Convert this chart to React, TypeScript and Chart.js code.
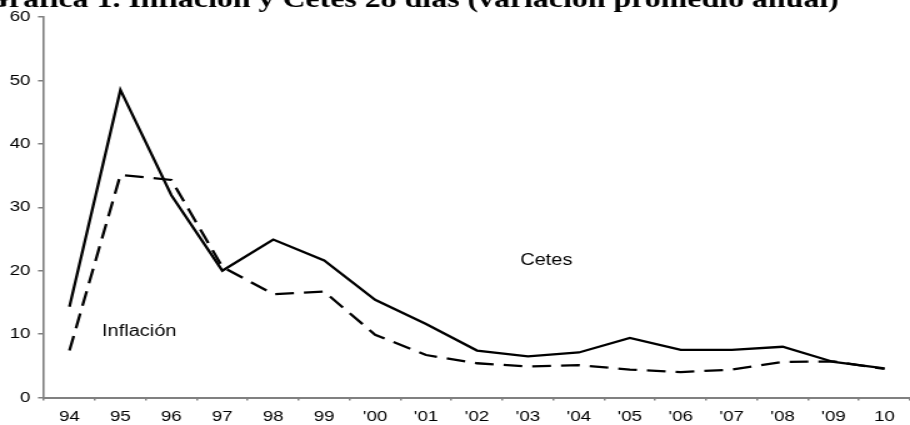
import React, { useEffect, useRef } from 'react';
import { Chart, registerables } from 'chart.js';

Chart.register(...registerables);

const years = ['94', '95', '96', '97', '98', '99', "'00", "'01", "'02", "'03", "'04", "'05", "'06", "'07", "'08", "'09", '10'];
const cetes = [14.3, 48.5, 31.9, 20.0, 24.9, 21.6, 15.4, 11.6, 7.4, 6.5, 7.1, 9.4, 7.5, 7.5, 8.0, 5.6, 4.6];
const inflacion = [7.4, 35.1, 34.3, 20.6, 16.3, 16.7, 9.9, 6.7, 5.4, 4.9, 5.1, 4.4, 4.0, 4.4, 5.6, 5.7, 4.5];
const yTicks = [0, 10, 20, 30, 40, 50, 60];
const titleText = 'Gráfica 1. Inflación y Cetes 28 días (variación promedio anual)';
const seriesLabels = [
  { text: 'Inflación', at: 1.37, value: 9.7 },
  { text: 'Cetes', at: 9.36, value: 20.9 },
];

const STRETCH = 1.25;
const W = 910;
const H = 425;
const IW = Math.round(W / STRETCH);

const annotate = {
  id: 'annotate',
  afterDraw(chart: any) {
    const ctx = chart.ctx;
    const xs = chart.scales.x;
    const ys = chart.scales.y;
    ctx.save();
    ctx.fillStyle = '#000';
    ctx.font = '16px "Liberation Sans", Arial, sans-serif';
    ctx.textAlign = 'center';
    ctx.textBaseline = 'alphabetic';
    for (const l of seriesLabels) {
      ctx.fillText(l.text, xs.getPixelForValue(l.at), ys.getPixelForValue(l.value));
    }
    ctx.font = 'bold 25.5px "Liberation Serif", "Times New Roman", serif';
    ctx.textAlign = 'right';
    ctx.fillText(titleText, 671, 7);
    ctx.restore();
  },
};

export default function App() {
  const ref = useRef<HTMLCanvasElement>(null);
  useEffect(() => {
    const canvas = ref.current!;
    const chart = new Chart(canvas, {
      type: 'line',
      data: {
        labels: years,
        datasets: [
          {
            label: 'Cetes',
            data: cetes,
            borderColor: '#000',
            borderWidth: 2.3,
            pointRadius: 0,
            tension: 0,
            fill: false,
          },
          {
            label: 'Inflación',
            data: inflacion,
            borderColor: '#000',
            borderWidth: 2.3,
            borderDash: [15, 8],
            pointRadius: 0,
            tension: 0,
            fill: false,
          },
        ],
      },
      options: {
        responsive: false,
        animation: false,
        devicePixelRatio: 1,
        layout: { padding: { top: 17, right: -1.3, bottom: 0, left: 0 } },
        plugins: {
          legend: { display: false },
          tooltip: { enabled: false },
          title: { display: false },
        },
        scales: {
          x: {
            type: 'category',
            offset: true,
            grid: {
              offset: true,
              drawOnChartArea: false,
              drawTicks: true,
              tickLength: 3,
              color: '#808080',
              lineWidth: 1.5,
            },
            border: { display: true, color: '#808080', width: 2 },
            ticks: {
              color: '#000',
              font: { family: '"Liberation Sans", Arial, sans-serif', size: 15 },
              padding: 7,
              maxRotation: 0,
              autoSkip: false,
            },
            afterFit(scale: any) {
              scale.height = 27.5;
            },
          },
          y: {
            min: 0,
            max: 60,
            afterBuildTicks(scale: any) {
              scale.ticks = yTicks.map((v) => ({ value: v }));
            },
            grid: {
              drawOnChartArea: false,
              drawTicks: true,
              tickLength: 4.8,
              color: '#808080',
              lineWidth: 1.5,
            },
            border: { display: true, color: '#808080', width: 1.6 },
            ticks: {
              color: '#000',
              font: { family: '"Liberation Sans", Arial, sans-serif', size: 15 },
              padding: 6,
            },
            afterFit(scale: any) {
              scale.width = 35.2;
            },
          },
        },
      },
      plugins: [annotate],
    });
    return () => chart.destroy();
  }, []);
  return (
    <div style={{ position: 'fixed', left: 0, top: 0, width: W, height: H, background: '#fff', overflow: 'hidden' }}>
      <canvas ref={ref} width={IW} height={H} style={{ width: W + 'px', height: H + 'px', display: 'block' }} />
    </div>
  );
}
